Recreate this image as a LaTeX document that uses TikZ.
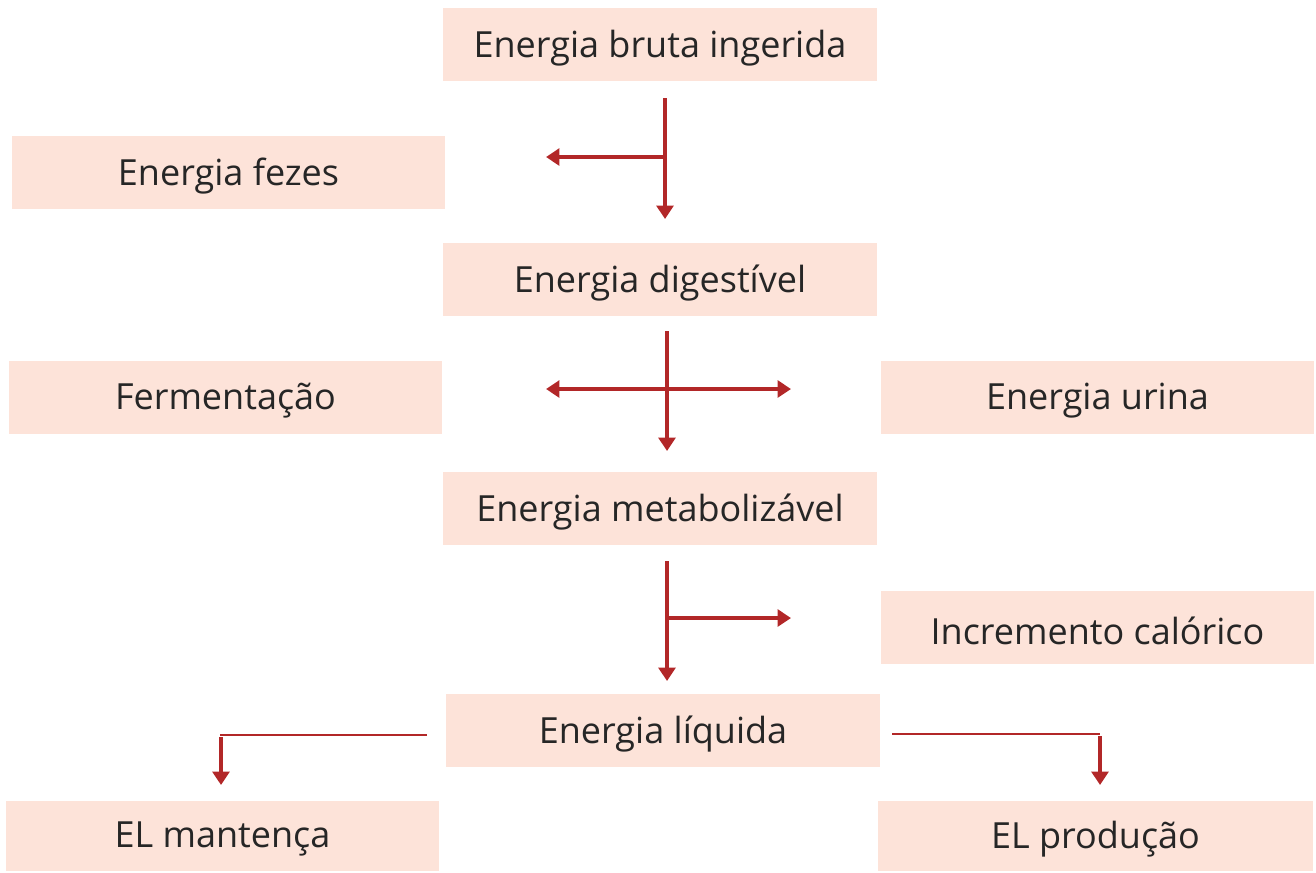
\documentclass[tikz,border=0pt]{standalone}
\usepackage{fontspec}
\setmainfont{Open Sans}
\usetikzlibrary{arrows.meta}
\definecolor{boxfill}{HTML}{FDE3D9}
\definecolor{arrowred}{HTML}{B22728}
\tikzset{
  box/.style={fill=boxfill, draw=none},
  label/.style={font=\fontsize{27}{32}\selectfont, text=black!85, inner sep=0pt, anchor=center, yshift=-2.5pt},
  tip/.style={},
  thick arrow/.style={draw=arrowred, line width=3pt, -{Triangle[length=10pt,width=12.5pt]}},
  thin line/.style={draw=arrowred, line width=1.6pt},
}
\newcommand{\boxat}[6]{% name, x1, y1, x2, y2, text
  \path[box] (#2,#3) rectangle (#4,#5);
  \node[label] (#1) at ({(#2+#4)/2},{(#3+#5)/2}) {#6};
}
\begin{document}
\begin{tikzpicture}[x=0.75pt,y=-0.75pt]
\useasboundingbox (0,0) rectangle (1316,872);
\boxat{ebi}{443}{8}{877}{81}{Energia bruta ingerida}
\boxat{fez}{12}{136}{445}{209}{Energia fezes}
\boxat{edg}{443}{243}{877}{316}{Energia digestível}
\boxat{fer}{9}{361}{442}{434}{Fermentação}
\boxat{uri}{881}{361}{1314}{434}{Energia urina}
\boxat{emb}{443}{472}{877}{545}{Energia metabolizável}
\boxat{inc}{881}{591}{1314}{664}{Incremento calórico}
\boxat{eli}{446}{694}{880}{767}{Energia líquida}
\boxat{man}{6}{801}{439}{871}{EL mantença}
\boxat{pro}{878}{801}{1313}{871}{EL produção}

% arrow group 1
\coordinate (a1s) at (665,98);
\coordinate (a1e) at (665,219);
\coordinate (a1m) at (665,157);
\coordinate (a1l) at (546,157);
\draw[thick arrow] (a1s) -- (a1e);
\draw[thick arrow] (a1m) -- (a1l);

% arrow group 2
\coordinate (a2s) at (667,331);
\coordinate (a2e) at (667,451);
\coordinate (a2l) at (546,389);
\coordinate (a2r) at (791,389);
\draw[thick arrow] (a2s) -- (a2e);
\draw[thick arrow, {Triangle[length=10pt,width=12.5pt]}-{Triangle[length=10pt,width=12.5pt]}] (a2l) -- (a2r);

% arrow group 3
\coordinate (a3s) at (667,561);
\coordinate (a3e) at (667,681);
\coordinate (a3m) at (669,618);
\coordinate (a3r) at (791,618);
\draw[thick arrow] (a3s) -- (a3e);
\draw[thick arrow] (a3m) -- (a3r);

% arrow group 4
\coordinate (a4s) at (427,735);
\coordinate (a4c) at (220,735);
\coordinate (a4t) at (221,737);
\coordinate (a4e) at (221,785);
\draw[thin line] (a4s) -- (a4c);
\draw[thick arrow] (a4t) -- (a4e);

% arrow group 5
\coordinate (a5s) at (892,734);
\coordinate (a5c) at (1100,734);
\coordinate (a5t) at (1100,736);
\coordinate (a5e) at (1100,785);
\draw[thin line] (a5s) -- (a5c);
\draw[thick arrow] (a5t) -- (a5e);
\end{tikzpicture}
\end{document}
